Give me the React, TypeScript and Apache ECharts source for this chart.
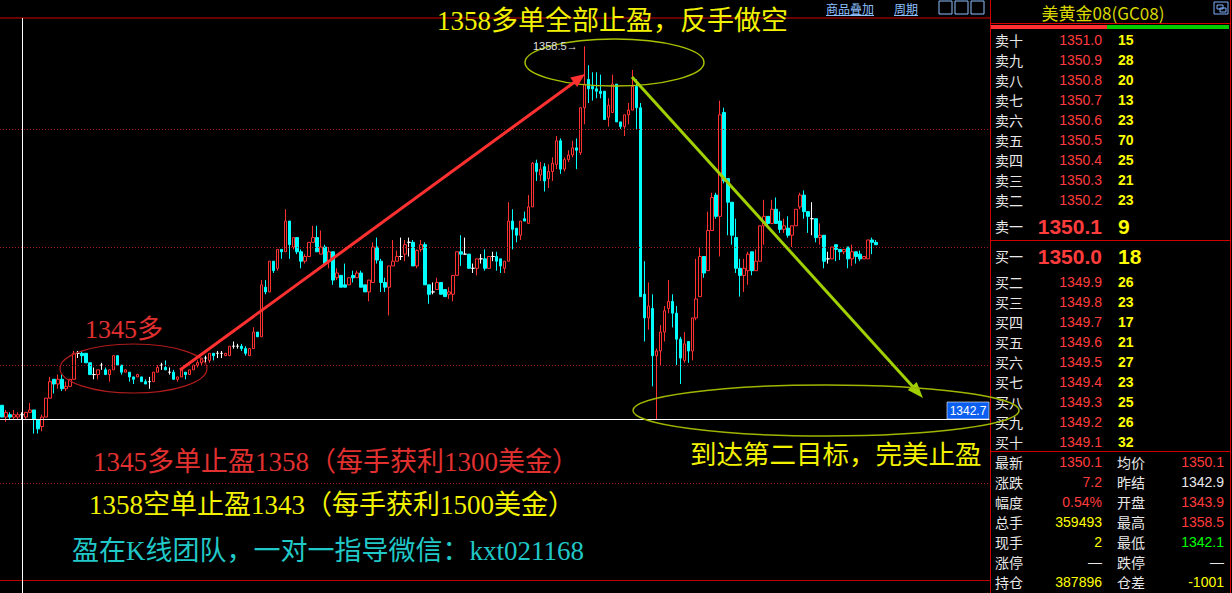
import React, { useEffect, useRef } from "react";
import * as echarts from "echarts";

// ---------- price data: [open, close, low, high] ----------
const candleOHLC: number[][] = [
  [1343.3, 1342.8, 1342.8, 1343.3], [1342.8, 1343.0, 1342.6, 1343.1], [1342.9, 1342.8, 1342.7, 1343.0], [1342.8, 1342.9, 1342.7, 1343.1],
  [1342.8, 1342.9, 1342.7, 1343.0], [1342.9, 1342.9, 1342.7, 1343.0], [1342.8, 1343.0, 1342.7, 1343.0], [1343.0, 1343.1, 1343.0, 1343.4],
  [1343.1, 1342.7, 1342.1, 1343.1], [1342.7, 1342.3, 1342.1, 1342.7], [1342.4, 1342.8, 1342.2, 1342.9], [1342.8, 1343.6, 1342.8, 1343.6],
  [1343.6, 1344.3, 1343.6, 1344.5], [1344.4, 1344.2, 1343.8, 1344.4], [1344.2, 1344.4, 1344.0, 1344.6], [1344.4, 1344.0, 1343.9, 1344.6],
  [1344.0, 1344.1, 1343.9, 1344.3], [1344.1, 1344.4, 1344.1, 1344.4], [1344.4, 1345.5, 1344.4, 1345.6], [1345.5, 1345.5, 1345.3, 1345.6],
  [1345.5, 1345.4, 1345.1, 1345.6], [1345.5, 1345.1, 1345.1, 1345.5], [1345.1, 1344.6, 1344.6, 1345.1], [1344.6, 1344.6, 1344.4, 1344.9],
  [1344.6, 1344.8, 1344.4, 1344.8], [1345.0, 1345.0, 1344.8, 1345.1], [1344.8, 1344.6, 1344.6, 1344.9], [1344.6, 1344.8, 1344.3, 1344.8],
  [1344.8, 1345.4, 1344.8, 1345.4], [1345.4, 1345.0, 1345.0, 1345.4], [1345.0, 1344.7, 1344.6, 1345.0], [1344.7, 1344.8, 1344.7, 1344.8],
  [1344.7, 1344.5, 1344.3, 1344.7], [1344.5, 1344.4, 1344.2, 1344.5], [1344.5, 1344.6, 1344.5, 1344.6], [1344.5, 1344.3, 1344.3, 1344.5],
  [1344.3, 1344.2, 1344.2, 1344.4], [1344.3, 1344.3, 1344.0, 1344.5], [1344.3, 1344.7, 1344.3, 1344.7], [1344.7, 1344.9, 1344.7, 1345.0],
  [1345.0, 1345.0, 1344.8, 1345.1], [1344.9, 1344.8, 1344.8, 1345.2], [1344.7, 1344.7, 1344.6, 1344.9], [1344.7, 1344.4, 1344.4, 1344.8],
  [1344.4, 1344.5, 1344.3, 1344.5], [1344.5, 1344.8, 1344.5, 1344.8], [1344.7, 1344.6, 1344.4, 1344.7], [1344.6, 1344.8, 1344.6, 1344.8],
  [1344.8, 1345.0, 1344.8, 1345.0], [1345.0, 1345.1, 1344.9, 1345.2], [1345.1, 1345.3, 1345.0, 1345.3], [1345.3, 1345.3, 1345.1, 1345.4],
  [1345.2, 1345.5, 1345.1, 1345.5], [1345.5, 1345.4, 1345.2, 1345.5], [1345.5, 1345.5, 1345.3, 1345.6], [1345.5, 1345.5, 1345.3, 1345.6],
  [1345.4, 1345.5, 1345.4, 1345.5], [1345.4, 1345.8, 1345.4, 1345.8], [1345.8, 1345.8, 1345.7, 1346.0], [1345.8, 1345.8, 1345.7, 1345.9],
  [1345.8, 1345.7, 1345.6, 1345.9], [1345.7, 1345.5, 1345.4, 1345.8], [1345.4, 1345.7, 1345.4, 1345.7], [1345.7, 1346.4, 1345.7, 1346.6],
  [1346.4, 1346.2, 1346.2, 1346.4], [1346.2, 1348.4, 1346.2, 1348.6], [1348.3, 1348.1, 1348.0, 1348.6], [1348.1, 1349.4, 1348.1, 1349.4],
  [1349.4, 1349.0, 1348.9, 1349.4], [1349.1, 1349.9, 1349.0, 1349.9], [1349.9, 1349.8, 1349.5, 1349.9], [1349.8, 1351.1, 1349.8, 1351.6],
  [1351.1, 1350.1, 1349.5, 1351.1], [1350.0, 1350.4, 1349.9, 1350.4], [1350.4, 1349.8, 1349.7, 1350.4], [1349.8, 1349.4, 1349.1, 1349.9],
  [1349.4, 1349.6, 1349.3, 1349.7], [1349.6, 1350.2, 1349.6, 1350.2], [1350.2, 1350.4, 1350.2, 1350.9], [1350.4, 1349.8, 1349.8, 1350.9],
  [1349.7, 1350.0, 1349.7, 1350.7], [1350.0, 1349.3, 1349.3, 1350.1], [1349.4, 1349.8, 1349.1, 1350.0], [1349.8, 1348.6, 1348.4, 1349.8],
  [1348.7, 1348.9, 1348.6, 1349.1], [1348.8, 1348.3, 1348.3, 1348.8], [1348.4, 1348.3, 1348.3, 1349.3], [1348.4, 1348.7, 1348.4, 1348.7],
  [1348.8, 1348.7, 1348.5, 1349.0], [1348.7, 1348.9, 1348.7, 1349.0], [1348.9, 1348.3, 1348.3, 1349.0], [1348.4, 1348.1, 1348.1, 1348.4],
  [1348.1, 1348.6, 1347.7, 1348.6], [1348.5, 1350.0, 1348.5, 1350.2], [1350.0, 1349.45, 1349.3, 1350.4], [1349.4, 1348.5, 1348.1, 1349.5],
  [1348.5, 1348.3, 1348.1, 1348.7], [1348.3, 1349.2, 1347.1, 1349.2], [1349.2, 1349.4, 1349.2, 1350.3], [1349.4, 1349.6, 1349.4, 1349.85],
  [1349.6, 1349.6, 1349.45, 1350.4], [1349.7, 1350.1, 1349.4, 1350.3], [1350.2, 1350.2, 1349.6, 1350.4], [1350.2, 1349.2, 1349.2, 1350.3],
  [1349.2, 1349.85, 1349.1, 1349.9], [1349.9, 1350.1, 1349.8, 1350.3], [1350.1, 1348.4, 1348.4, 1350.2], [1348.4, 1348.0, 1347.6, 1348.4],
  [1348.1, 1348.1, 1348.0, 1348.5], [1348.2, 1348.5, 1348.2, 1348.7], [1348.5, 1348.0, 1348.0, 1348.5], [1348.2, 1347.9, 1347.9, 1348.2],
  [1348.0, 1348.1, 1347.8, 1348.3], [1348.0, 1348.8, 1347.7, 1348.8], [1348.8, 1349.8, 1348.8, 1349.8], [1349.8, 1349.7, 1349.2, 1350.5],
  [1349.7, 1349.7, 1349.7, 1350.4], [1349.7, 1349.1, 1349.1, 1349.7], [1349.1, 1349.1, 1348.9, 1349.3], [1349.1, 1349.5, 1348.8, 1349.5],
  [1349.5, 1349.5, 1349.3, 1349.7], [1349.5, 1349.1, 1349.0, 1349.9], [1349.1, 1349.6, 1349.1, 1349.6], [1349.6, 1349.6, 1349.4, 1349.8],
  [1349.6, 1349.4, 1349.0, 1349.8], [1349.5, 1349.2, 1348.9, 1349.5], [1349.1, 1349.4, 1348.9, 1349.4], [1349.4, 1351.1, 1349.4, 1351.9],
  [1351.1, 1350.75, 1349.9, 1351.6], [1350.8, 1350.5, 1350.2, 1350.8], [1350.5, 1351.1, 1350.3, 1351.1], [1351.2, 1351.1, 1351.1, 1351.5],
  [1351.0, 1351.7, 1351.0, 1352.2], [1351.7, 1353.55, 1351.7, 1353.6], [1353.55, 1353.2, 1352.8, 1353.7], [1353.05, 1353.3, 1352.8, 1353.6],
  [1353.4, 1352.8, 1352.35, 1353.55], [1352.9, 1353.2, 1352.5, 1353.5], [1353.2, 1353.55, 1352.8, 1353.8], [1353.5, 1354.5, 1353.3, 1354.7],
  [1354.5, 1353.3, 1353.1, 1354.6], [1353.3, 1353.7, 1353.2, 1353.8], [1353.7, 1353.9, 1353.6, 1354.1], [1353.9, 1354.2, 1353.8, 1354.5],
  [1354.2, 1354.1, 1353.3, 1354.6], [1354.0, 1355.9, 1353.9, 1355.9], [1355.9, 1356.9, 1355.2, 1358.5], [1357.1, 1356.7, 1356.1, 1357.7],
  [1356.8, 1356.7, 1356.2, 1357.4], [1356.7, 1356.6, 1356.3, 1357.4], [1356.6, 1356.5, 1356.3, 1357.3], [1356.6, 1355.4, 1355.4, 1356.6],
  [1355.5, 1356.0, 1355.1, 1356.3], [1355.7, 1356.9, 1355.7, 1357.3], [1356.9, 1355.3, 1355.3, 1356.9], [1355.3, 1355.1, 1355.0, 1355.3],
  [1355.1, 1355.6, 1354.7, 1355.6], [1355.6, 1355.8, 1355.2, 1356.1], [1355.8, 1356.8, 1355.8, 1357.5], [1356.8, 1355.9, 1355.0, 1357.1],
  [1355.9, 1347.9, 1347.9, 1356.1], [1348.0, 1347.0, 1346.0, 1349.4], [1347.0, 1347.5, 1346.5, 1348.5], [1347.4, 1345.4, 1344.1, 1348.0],
  [1345.4, 1345.6, 1342.7, 1345.7], [1345.6, 1346.4, 1345.0, 1346.7], [1346.4, 1347.3, 1346.0, 1347.5], [1347.4, 1347.7, 1347.2, 1348.6],
  [1347.7, 1347.2, 1346.6, 1348.0], [1347.2, 1346.1, 1345.0, 1347.5], [1346.1, 1345.3, 1344.2, 1346.2], [1345.2, 1345.9, 1345.1, 1346.4],
  [1346.0, 1345.6, 1345.1, 1346.0], [1345.6, 1347.0, 1345.2, 1347.0], [1347.0, 1347.8, 1346.9, 1349.5], [1347.9, 1349.6, 1347.9, 1350.0],
  [1349.6, 1348.9, 1348.7, 1349.6], [1349.0, 1350.7, 1349.0, 1351.5], [1350.7, 1352.1, 1350.7, 1352.3], [1352.2, 1351.3, 1351.2, 1352.3],
  [1351.3, 1355.6, 1349.6, 1356.2], [1355.7, 1352.8, 1352.7, 1355.9], [1352.9, 1351.9, 1350.5, 1352.9], [1351.9, 1350.5, 1350.1, 1351.9],
  [1350.4, 1349.1, 1348.9, 1351.2], [1349.1, 1348.8, 1347.9, 1349.5], [1348.8, 1349.1, 1348.1, 1349.5], [1349.0, 1349.7, 1348.4, 1349.8],
  [1349.8, 1349.0, 1348.8, 1349.8], [1349.0, 1349.4, 1349.0, 1349.9], [1349.4, 1350.9, 1349.4, 1350.9], [1350.9, 1351.3, 1350.1, 1352.0],
  [1351.3, 1351.0, 1350.8, 1351.3], [1351.0, 1351.6, 1351.0, 1352.0], [1351.6, 1351.0, 1351.0, 1352.1], [1351.1, 1350.75, 1350.6, 1351.5],
  [1350.75, 1350.9, 1350.6, 1351.2], [1350.8, 1350.5, 1350.4, 1351.3], [1350.5, 1350.9, 1350.0, 1350.9], [1350.9, 1351.6, 1350.9, 1351.6],
  [1351.7, 1352.2, 1351.6, 1352.3], [1352.2, 1351.5, 1351.2, 1352.4], [1351.5, 1351.3, 1350.6, 1351.5], [1351.2, 1351.2, 1350.5, 1351.9],
  [1351.2, 1350.4, 1350.2, 1351.2], [1350.4, 1350.5, 1350.1, 1351.0], [1350.5, 1349.4, 1349.1, 1350.5], [1349.5, 1349.5, 1349.3, 1349.8],
  [1349.5, 1350.0, 1349.5, 1350.0], [1350.1, 1349.9, 1349.4, 1350.1], [1349.9, 1349.8, 1349.45, 1349.9], [1349.8, 1349.9, 1349.7, 1349.9],
  [1350.0, 1349.5, 1349.1, 1350.0], [1349.5, 1349.8, 1349.2, 1350.1], [1349.8, 1349.6, 1349.3, 1349.8], [1349.7, 1349.5, 1349.4, 1349.85],
  [1349.5, 1349.6, 1349.5, 1349.6], [1349.5, 1350.3, 1349.5, 1350.3], [1350.3, 1350.2, 1349.7, 1350.4], [1350.2, 1350.1, 1350.1, 1350.3],
];

const categoryCount = 248;
const categories = Array.from({ length: categoryCount }, (_, i) => `${i + 1}`);
const gridPrices = [1340, 1345, 1350, 1355];
const markPrice = 1342.7;
const priceMin = 1335.9;
const priceMax = 1359.7;

// ---------- order book panel ----------
const askLabels = ["卖十", "卖九", "卖八", "卖七", "卖六", "卖五", "卖四", "卖三", "卖二"];
const askPrices = ["1351.0", "1350.9", "1350.8", "1350.7", "1350.6", "1350.5", "1350.4", "1350.3", "1350.2"];
const askVols = ["15", "28", "20", "13", "23", "70", "25", "21", "23"];
const bestAsk = ["卖一", "1350.1", "9"];
const bestBid = ["买一", "1350.0", "18"];
const bidLabels = ["买二", "买三", "买四", "买五", "买六", "买七", "买八", "买九", "买十"];
const bidPrices = ["1349.9", "1349.8", "1349.7", "1349.6", "1349.5", "1349.4", "1349.3", "1349.2", "1349.1"];
const bidVols = ["26", "23", "17", "21", "27", "23", "25", "26", "32"];
const statLabelsL = ["最新", "涨跌", "幅度", "总手", "现手", "涨停", "持仓"];
const statValuesL = ["1350.1", "7.2", "0.54%", "359493", "2", "—", "387896"];
const statColorsL = ["#ff3c3c", "#ff3c3c", "#ff3c3c", "#ffff00", "#ffff00", "#e8e8e8", "#ffff00"];
const statLabelsR = ["均价", "昨结", "开盘", "最高", "最低", "跌停", "仓差"];
const statValuesR = ["1350.1", "1342.9", "1343.9", "1358.5", "1342.1", "—", "-1001"];
const statColorsR = ["#ff3c3c", "#e8e8e8", "#ff3c3c", "#ff3c3c", "#00ff00", "#e8e8e8", "#ffff00"];

const titleText = "1358多单全部止盈，反手做空";
const longText = "1345多";
const targetText = "到达第二目标，完美止盈";
const note1 = "1345多单止盈1358（每手获利1300美金）";
const note2 = "1358空单止盈1343（每手获利1500美金）";
const note3 = "盈在K线团队，一对一指导微信：kxt021168";
const symbolTitle = "美黄金08(GC08)";

const RED = "#ff3c3c";
const YEL = "#ffff00";
const CJK = "Noto Sans CJK SC";
const SERIF_CJK = "Liberation Serif, Noto Sans CJK SC";
const NUM = "Liberation Sans, Arial";

function txt(text: string, x: number, y: number, fill: string, font: string, align = "left", z = 100) {
  return {
    type: "text",
    z,
    silent: true,
    style: { text, x, y, fill, font, textAlign: align, textVerticalAlign: "middle" },
  };
}
function ln(x1: number, y1: number, x2: number, y2: number, stroke: string, lineWidth = 1, z = 90) {
  return { type: "line", z, silent: true, shape: { x1, y1, x2, y2 }, style: { stroke, lineWidth } };
}

export default function App() {
  const ref = useRef<HTMLDivElement>(null);
  useEffect(() => {
    document.body.style.margin = "0";
    document.body.style.background = "#000";
    const chart = echarts.init(ref.current!, null, { renderer: "svg" });

    const graphics: any[] = [];
    // right panel background
    graphics.push({ type: "rect", z: 80, silent: true, shape: { x: 990, y: 0, width: 242, height: 593 }, style: { fill: "#000" } });
    // frame lines
    graphics.push(ln(0, 18, 990, 18, "#d00000"));
    graphics.push(ln(0, 580.5, 990, 580.5, "#c00000"));
    graphics.push(ln(22.5, 18, 22.5, 593, "#ffffff"));
    graphics.push(ln(990.5, 0, 990.5, 593, "#d00000"));
    graphics.push(ln(1230.5, 0, 1230.5, 593, "#d00000"));
    graphics.push(ln(990, 23.5, 1231, 23.5, "#d00000"));
    graphics.push(ln(990, 240.5, 1231, 240.5, "#d00000"));
    graphics.push(ln(990, 451.5, 1231, 451.5, "#d00000"));
    // red/green bar
    graphics.push({ type: "rect", z: 90, silent: true, shape: { x: 991, y: 25, width: 116, height: 4 }, style: { fill: "#ff3030" } });
    graphics.push({ type: "rect", z: 90, silent: true, shape: { x: 1107, y: 25, width: 122, height: 4 }, style: { fill: "#00cc00" } });
    // symbol title
    graphics.push(txt(symbolTitle, 1103, 12, "#d8d800", `17px ${CJK}`, "center"));
    graphics.push({ type: "rect", z: 100, silent: true, shape: { x: 1214, y: 2, width: 14, height: 12 }, style: { fill: "#000", stroke: "#7fb0ff", lineWidth: 1 } });
    graphics.push({ type: "rect", z: 100, silent: true, shape: { x: 1217, y: 5, width: 6, height: 4 }, style: { fill: "none", stroke: "#7fb0ff", lineWidth: 1 } });
    graphics.push({ type: "rect", z: 100, silent: true, shape: { x: 1220, y: 8, width: 6, height: 4 }, style: { fill: "none", stroke: "#7fb0ff", lineWidth: 1 } });

    // asks
    askLabels.forEach((l, i) => {
      const y = 40 + i * 20;
      graphics.push(txt(l, 995, y, "#e8e8e8", `14px ${CJK}`));
      graphics.push(txt(askPrices[i], 1102, y, RED, `14px ${NUM}`, "right"));
      graphics.push(txt(askVols[i], 1118, y, YEL, `bold 14px ${NUM}`));
    });
    graphics.push(txt(bestAsk[0], 995, 226, "#e8e8e8", `14px ${CJK}`));
    graphics.push(txt(bestAsk[1], 1102, 226, RED, `bold 21px ${NUM}`, "right"));
    graphics.push(txt(bestAsk[2], 1118, 226, YEL, `bold 21px ${NUM}`));
    graphics.push(txt(bestBid[0], 995, 256, "#e8e8e8", `14px ${CJK}`));
    graphics.push(txt(bestBid[1], 1102, 256, RED, `bold 21px ${NUM}`, "right"));
    graphics.push(txt(bestBid[2], 1118, 256, YEL, `bold 21px ${NUM}`));
    bidLabels.forEach((l, i) => {
      const y = 282 + i * 20;
      graphics.push(txt(l, 995, y, "#e8e8e8", `14px ${CJK}`));
      graphics.push(txt(bidPrices[i], 1102, y, RED, `14px ${NUM}`, "right"));
      graphics.push(txt(bidVols[i], 1118, y, YEL, `bold 14px ${NUM}`));
    });
    statLabelsL.forEach((l, i) => {
      const y = 462 + i * 20;
      graphics.push(txt(l, 995, y, "#e8e8e8", `14px ${CJK}`));
      graphics.push(txt(statValuesL[i], 1102, y, statColorsL[i], `14px ${NUM}`, "right"));
      graphics.push(txt(statLabelsR[i], 1117, y, "#e8e8e8", `14px ${CJK}`));
      graphics.push(txt(statValuesR[i], 1224, y, statColorsR[i], `14px ${NUM}`, "right"));
    });

    // toolbar
    graphics.push(txt("商品叠加", 826, 8, "#8fc0ff", `12px ${CJK}`));
    graphics.push(ln(826, 15.5, 874, 15.5, "#8fc0ff", 1, 100));
    graphics.push(txt("周期", 894, 8, "#8fc0ff", `12px ${CJK}`));
    graphics.push(ln(894, 15.5, 918, 15.5, "#8fc0ff", 1, 100));
    [939, 955, 971].forEach((x) => {
      graphics.push({ type: "rect", z: 100, silent: true, shape: { x, y: 1, width: 13, height: 13 }, style: { fill: "#000", stroke: "#8fc0ff", lineWidth: 1 } });
    });

    // annotations
    graphics.push(txt(titleText, 437, 21, "#f2f200", `27px ${SERIF_CJK}`));
    graphics.push(txt("1358.5→", 533, 46, "#e0e0e0", `11px ${NUM}`));
    graphics.push({ type: "ellipse", z: 95, silent: true, shape: { cx: 614.5, cy: 62.5, rx: 89.5, ry: 23.5 }, style: { fill: "none", stroke: "#a8c000", lineWidth: 1.5 } });
    graphics.push(txt(longText, 85, 329, "#e03030", `26px ${SERIF_CJK}`));
    graphics.push({ type: "ellipse", z: 95, silent: true, shape: { cx: 133.5, cy: 368.5, rx: 73.5, ry: 24.5 }, style: { fill: "none", stroke: "#b01c1c", lineWidth: 1.2 } });
    // red arrow
    graphics.push(ln(180, 370, 576, 81, "#ff3030", 3, 96));
    graphics.push({ type: "polygon", z: 96, silent: true, shape: { points: [[585, 74], [577.2, 87.1], [570.2, 77.5]] }, style: { fill: "#ff3030" } });
    // green arrow
    graphics.push(ln(632, 77, 914, 388, "#a0d000", 3, 96));
    graphics.push({ type: "polygon", z: 96, silent: true, shape: { points: [[923, 398], [907.8, 390.1], [916.7, 382.1]] }, style: { fill: "#a0d000" } });
    // bottom ellipse (drawn over panel)
    graphics.push({ type: "ellipse", z: 110, silent: true, shape: { cx: 826, cy: 410.5, rx: 193, ry: 25.5 }, style: { fill: "none", stroke: "#a0b400", lineWidth: 1.5 } });
    // price label
    graphics.push({ type: "rect", z: 105, silent: true, shape: { x: 947, y: 402, width: 42, height: 17 }, style: { fill: "#0a5ff0", stroke: "#ffffff", lineWidth: 0.6 } });
    graphics.push(txt("1342.7", 968, 411, "#ffffff", `12px ${NUM}`, "center", 106));
    graphics.push(txt(targetText, 690, 455, "#f2f200", `26.5px ${SERIF_CJK}`));
    graphics.push(txt(note1, 93, 462, "#e03030", `27px ${SERIF_CJK}`));
    graphics.push(txt(note2, 89, 505, "#f2f200", `27px ${SERIF_CJK}`));
    graphics.push(txt(note3, 72, 551, "#20c8c8", `27px ${SERIF_CJK}`));

    const markLineData: any[] = gridPrices.map((p) => ({
      yAxis: p,
      lineStyle: { color: "#a01c1c", type: [1, 2], width: 1 },
    }));
    markLineData.push({ yAxis: markPrice, lineStyle: { color: "#ffffff", type: "solid", width: 1 } });

    chart.setOption({
      animation: false,
      backgroundColor: "#000000",
      grid: { left: -2.5, top: 18, width: 992, height: 562, containLabel: false },
      xAxis: {
        type: "category",
        data: categories,
        boundaryGap: true,
        axisLine: { show: false },
        axisTick: { show: false },
        axisLabel: { show: false },
        splitLine: { show: false },
      },
      yAxis: {
        type: "value",
        min: priceMin,
        max: priceMax,
        axisLine: { show: false },
        axisTick: { show: false },
        axisLabel: { show: false },
        splitLine: { show: false },
      },
      series: [
        {
          type: "candlestick",
          data: candleOHLC,
          barWidth: 3,
          itemStyle: {
            color: "#000000",
            color0: "#00ffff",
            borderColor: "#ff3232",
            borderColor0: "#00ffff",
            borderColorDoji: "#ffffff",
            borderWidth: 1,
          },
          markLine: {
            silent: true,
            symbol: ["none", "none"],
            label: { show: false },
            animation: false,
            data: markLineData,
          },
        },
      ],
      graphic: graphics,
    });
    return () => chart.dispose();
  }, []);
  return <div ref={ref} style={{ width: 1232, height: 593, background: "#000" }} />;
}
